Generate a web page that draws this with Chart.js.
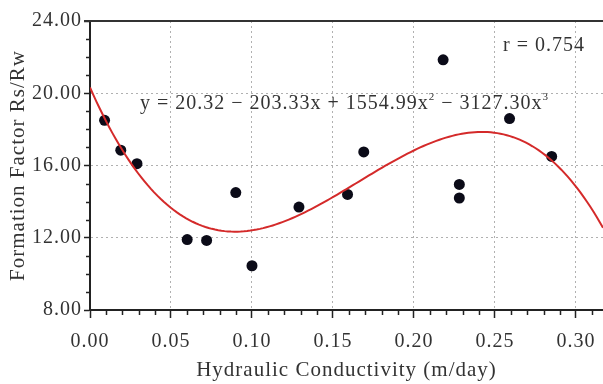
<!DOCTYPE html>
<html>
<head>
<meta charset="utf-8">
<script src="https://cdn.jsdelivr.net/npm/chart.js@4/dist/chart.umd.min.js"></script>
<style>
  html, body { margin: 0; padding: 0; background: #fff; }
  #wrap { width: 603px; height: 384px; }
</style>
</head>
<body>
<div id="wrap"><canvas id="formation-fit"></canvas></div>
<script>
// measured samples
var conductivity = [0.009, 0.019, 0.029, 0.060, 0.072, 0.090, 0.100, 0.129, 0.159, 0.169, 0.218, 0.228, 0.228, 0.259, 0.285];
var formationFactor = [18.5, 16.85, 16.1, 11.9, 11.85, 14.5, 10.45, 13.7, 14.4, 16.75, 21.85, 14.95, 14.2, 18.6, 16.5];

// cubic fit: y = c0 + c1 x + c2 x^2 + c3 x^3
var coefficients = [20.32, -203.33, 1554.99, -3127.30];
var correlation = 0.754;

var xTicks = [0, 0.05, 0.10, 0.15, 0.20, 0.25, 0.30];
var yTicks = [8, 12, 16, 20, 24];
var xMax = 0.3167;

var serif = 'Liberation Serif';

var fitCurve = [];
for (var i = 0; i <= 160; i++) {
  var x = xMax * i / 160;
  fitCurve.push({ x: x, y: coefficients[0] + coefficients[1] * x + coefficients[2] * x * x + coefficients[3] * x * x * x });
}

var samples = conductivity.map(function (x, i) { return { x: x, y: formationFactor[i] }; });

function onEdge(v, lo, hi) { return Math.abs(v - lo) < 1e-9 || Math.abs(v - hi) < 1e-9; }

// the printed labels are slightly tracked out
var tracking = {
  id: 'tracking',
  beforeLayout: function (chart) { chart.ctx.letterSpacing = '1px'; },
  beforeDraw: function (chart) { chart.ctx.letterSpacing = '1px'; }
};

// minor ticks, top frame line and the fit labels
var extras = {
  id: 'extras',
  afterDraw: function (chart) {
    var c = chart.ctx, a = chart.chartArea;
    var xs = chart.scales.x, ys = chart.scales.y;
    c.save();
    c.strokeStyle = '#222';
    c.lineWidth = 1.5;
    c.beginPath();
    for (var k = 1; k <= 31; k++) {
      if (k % 5 === 0) continue;
      var px = Math.round(xs.getPixelForValue(k / 100)) + 0.5;
      c.moveTo(px, a.bottom); c.lineTo(px, a.bottom + 5);
    }
    for (var v = 9; v < 24; v++) {
      if (v % 4 === 0) continue;
      var py = Math.round(ys.getPixelForValue(v)) + 0.5;
      c.moveTo(a.left, py); c.lineTo(a.left - 4, py);
    }
    c.stroke();

    c.strokeStyle = '#333';
    c.lineWidth = 2;
    c.beginPath();
    c.moveTo(a.left - 6, a.top); c.lineTo(a.right, a.top);
    c.stroke();

    // equation text with superscripts
    c.fillStyle = '#333';
    c.textBaseline = 'alphabetic';
    var parts = [
      ['y = ' + coefficients[0].toFixed(2) + ' \u2212 ' + Math.abs(coefficients[1]).toFixed(2) + 'x + ' + coefficients[2].toFixed(2) + 'x', false],
      ['2', true],
      [' \u2212 ' + Math.abs(coefficients[3]).toFixed(2) + 'x', false],
      ['3', true]
    ];
    var tx = 140, base = 109;
    parts.forEach(function (p) {
      c.font = (p[1] ? 11 : 20) + 'px "' + serif + '"';
      c.fillText(p[0], tx, p[1] ? base - 9 : base);
      tx += c.measureText(p[0]).width;
    });
    c.font = '20px "' + serif + '"';
    c.fillText('r = ' + correlation.toFixed(3), 503, 51);
    c.restore();
  }
};

new Chart(document.getElementById('formation-fit'), {
  type: 'scatter',
  data: {
    datasets: [{
      label: 'Cubic fit',
      data: fitCurve,
      showLine: true,
      borderColor: '#d42a2a',
      borderWidth: 2,
      pointRadius: 0,
      fill: false,
      tension: 0
    }, {
      label: 'Samples',
      data: samples,
      pointRadius: 5.5,
      pointBackgroundColor: '#0b0b18',
      pointBorderWidth: 0
    }]
  },
  options: {
    responsive: true,
    maintainAspectRatio: false,
    animation: false,
    layout: { autoPadding: false, padding: { top: 21, right: 0, left: 0, bottom: 0 } },
    plugins: { legend: { display: false }, tooltip: { enabled: false } },
    scales: {
      x: {
        type: 'linear',
        min: 0,
        max: xMax,
        afterBuildTicks: function (s) { s.ticks = xTicks.map(function (v) { return { value: v }; }); },
        afterFit: function (s) { s.height = 74; s.paddingLeft = 0; s.paddingRight = 0; },
        ticks: {
          callback: function (v) { return v.toFixed(2); },
          font: { family: serif, size: 20 },
          color: '#333',
          padding: 12,
          maxRotation: 0
        },
        grid: {
          color: function (ctx) { return ctx.tick && onEdge(ctx.tick.value, 0, xMax) ? 'rgba(0,0,0,0)' : '#b0b0b0'; },
          tickColor: '#222',
          tickLength: 8,
          tickWidth: 1.5,
          lineWidth: 1
        },
        border: { color: '#222', width: 2, dash: [2, 3] },
        title: {
          display: true,
          text: 'Hydraulic Conductivity (m/day)',
          font: { family: serif, size: 21 },
          color: '#333',
          padding: { top: 0, bottom: 1 }
        }
      },
      y: {
        min: 8,
        max: 24,
        afterBuildTicks: function (s) { s.ticks = yTicks.map(function (v) { return { value: v }; }); },
        afterFit: function (s) { s.width = 90; s.paddingTop = 0; s.paddingBottom = 0; },
        ticks: {
          callback: function (v) { return v.toFixed(2); },
          font: { family: serif, size: 20 },
          color: '#333',
          padding: 2
        },
        grid: {
          color: function (ctx) { return ctx.tick && onEdge(ctx.tick.value, 8, 24) ? 'rgba(0,0,0,0)' : '#b0b0b0'; },
          tickColor: '#222',
          tickLength: 6,
          tickWidth: 1.5,
          lineWidth: 1
        },
        border: { color: '#222', width: 2, dash: [2, 3] },
        title: {
          display: true,
          text: 'Formation Factor Rs/Rw',
          font: { family: serif, size: 21 },
          color: '#333',
          padding: { top: 6, bottom: 0 }
        }
      }
    }
  },
  plugins: [tracking, extras]
});
</script>
</body>
</html>
